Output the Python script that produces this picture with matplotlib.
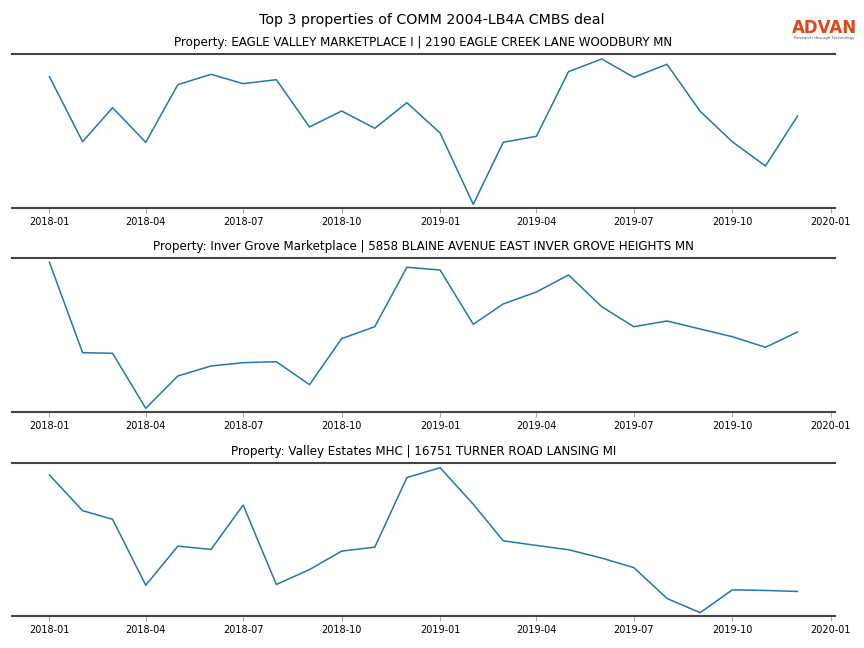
#!/usr/bin/env python3
"""Monthly activity for the top 3 properties of the COMM 2004-LB4A CMBS deal."""
import matplotlib

matplotlib.use("Agg")
import matplotlib.dates as mdates
import matplotlib.pyplot as plt
import pandas as pd

MONTHS = pd.date_range("2018-01-01", "2019-12-01", freq="MS")

TITLES = [
    "Property: EAGLE VALLEY MARKETPLACE I | 2190 EAGLE CREEK LANE WOODBURY MN",
    "Property: Inver Grove Marketplace | 5858 BLAINE AVENUE EAST INVER GROVE HEIGHTS MN",
    "Property: Valley Estates MHC | 16751 TURNER ROAD LANSING MI",
]

# relative activity index (arbitrary units)
EAGLE_VALLEY = [131.3, 66.3, 100.3, 65.7, 123.3, 133.7, 124.3, 128.3, 81.0, 97.0, 79.7, 105.3,
                75.0, 3.7, 65.7, 71.7, 136.3, 149.0, 130.7, 143.7, 96.7, 66.3, 42.0, 92.0]
INVER_GROVE = [149.7, 59.3, 58.7, 3.7, 36.0, 46.0, 49.3, 50.3, 27.3, 73.3, 85.3, 144.7,
               142.0, 87.7, 108.0, 120.0, 137.0, 105.3, 85.3, 91.0, 83.0, 75.3, 64.7, 80.0]
VALLEY_ESTATES = [142.0, 106.0, 97.3, 31.0, 70.3, 67.0, 111.7, 31.7, 46.7, 65.3, 69.3, 139.3,
                  149.3, 112.5, 75.7, 71.0, 66.7, 58.3, 48.7, 17.7, 3.3, 26.3, 25.7, 24.7]
SERIES = [EAGLE_VALLEY, INVER_GROVE, VALLEY_ESTATES]

LINE_COLOR = "#1f77b4"
SPINE_COLOR = "#444444"


def main() -> None:
    fig = plt.figure(figsize=(8.64, 6.48), dpi=100)
    boxes = [(0.0139, 0.679, 0.9525, 0.2377),
             (0.0139, 0.3642, 0.9525, 0.2377),
             (0.0139, 0.0494, 0.9525, 0.2361)]
    for box, title, values in zip(boxes, TITLES, SERIES):
        ax = fig.add_axes(box)
        ax.plot(MONTHS, values, color=LINE_COLOR, linewidth=1.1)
        ax.set_ylim(0, 154)
        ax.set_title(title, fontsize=8.6, pad=6)
        for side in ("left", "right"):
            ax.spines[side].set_visible(False)
        for side in ("top", "bottom"):
            ax.spines[side].set_color(SPINE_COLOR)
            ax.spines[side].set_linewidth(1.5)
        ax.set_yticks([])
        ax.xaxis.set_major_locator(mdates.MonthLocator(bymonth=[1, 4, 7, 10]))
        ax.xaxis.set_major_formatter(mdates.DateFormatter("%Y-%m"))
        ax.tick_params(axis="x", labelsize=7, length=3.5, width=0.8,
                       color="#aaaaaa", pad=3)

    fig.text(0.5, 0.969, "Top 3 properties of COMM 2004-LB4A CMBS deal",
             ha="center", va="center", fontsize=10.3)
    fig.text(0.954, 0.957, "ADVAN", ha="center", va="center", fontsize=12,
             color="#e0461c", fontweight="semibold")
    fig.text(0.954, 0.941, "Research through Technology", ha="center",
             va="center", fontsize=3, color="#555555")
    fig.savefig("out.png", dpi=100)
    plt.close(fig)


if __name__ == "__main__":
    main()
